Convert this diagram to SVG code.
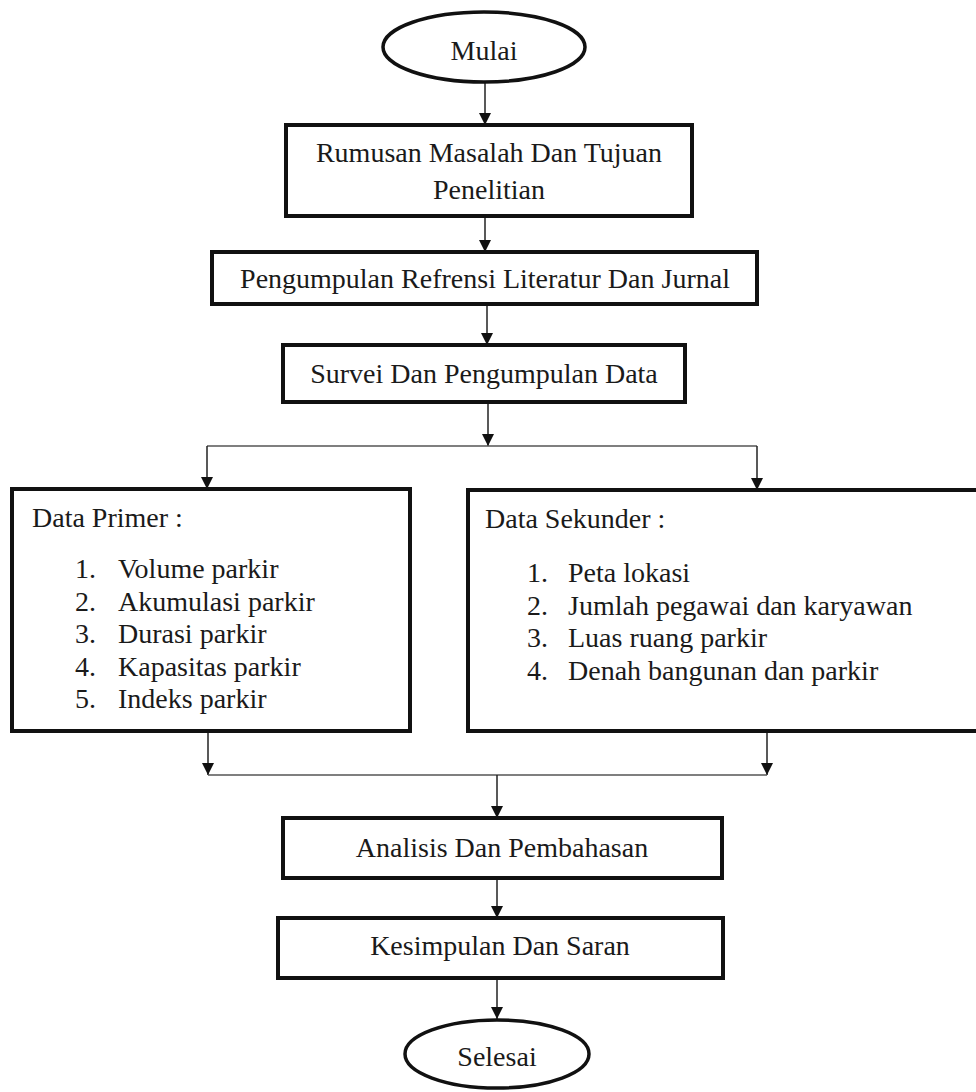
<svg xmlns="http://www.w3.org/2000/svg" width="976" height="1092" viewBox="0 0 976 1092">
<style>
  .box{fill:#fff;stroke:#111;stroke-width:4}
  .term{fill:#fff;stroke:#111;stroke-width:3.5}
  .t{font-family:'Liberation Serif','DejaVu Serif',serif;font-size:28px;fill:#1a1a1a}
  .c{text-anchor:middle}
  .v{fill:none;stroke:#222;stroke-width:1.5}
  .h{fill:none;stroke:#555;stroke-width:1.3}
</style>
<defs>
  <marker id="ah" markerUnits="userSpaceOnUse" markerWidth="12" markerHeight="12" refX="12" refY="6" orient="auto">
    <path d="M0,0 L12,6 L0,12 z" fill="#111"/>
  </marker>
</defs>
<rect width="976" height="1092" fill="#fff"/>
<g id="connectors">
  <line class="v" x1="485" y1="82" x2="485" y2="125" marker-end="url(#ah)"/>
  <line class="v" x1="485" y1="216" x2="485" y2="252" marker-end="url(#ah)"/>
  <line class="v" x1="487" y1="304" x2="487" y2="345" marker-end="url(#ah)"/>
  <line class="v" x1="488" y1="402" x2="488" y2="446" marker-end="url(#ah)"/>
  <line class="h" x1="207" y1="446" x2="757" y2="446"/>
  <line class="v" x1="207" y1="446" x2="207" y2="489" marker-end="url(#ah)"/>
  <line class="v" x1="757" y1="446" x2="757" y2="490" marker-end="url(#ah)"/>
  <line class="v" x1="208" y1="731" x2="208" y2="775" marker-end="url(#ah)"/>
  <line class="v" x1="767" y1="731" x2="767" y2="775" marker-end="url(#ah)"/>
  <line class="h" x1="208" y1="775" x2="767" y2="775"/>
  <line class="v" x1="497" y1="775" x2="497" y2="818" marker-end="url(#ah)"/>
  <line class="v" x1="497" y1="878" x2="497" y2="918" marker-end="url(#ah)"/>
  <line class="v" x1="497" y1="978" x2="497" y2="1019" marker-end="url(#ah)"/>
</g>
<g id="mulai">
  <ellipse class="term" cx="484" cy="47" rx="101" ry="35"/>
  <text class="t c" x="484" y="60" font-family="Liberation Serif">Mulai</text>
</g>
<g id="rumusan">
  <rect class="box" x="286" y="125" width="406" height="91"/>
  <text class="t c" x="489" y="162">Rumusan Masalah Dan Tujuan</text>
  <text class="t c" x="489" y="199">Penelitian</text>
</g>
<g id="pengumpulan">
  <rect class="box" x="212" y="252" width="545" height="52"/>
  <text class="t c" x="485" y="288">Pengumpulan Refrensi Literatur Dan Jurnal</text>
</g>
<g id="survei">
  <rect class="box" x="283" y="345" width="402" height="57"/>
  <text class="t c" x="484" y="383">Survei Dan Pengumpulan Data</text>
</g>
<g id="primer">
  <rect class="box" x="12" y="489" width="398" height="242"/>
  <text class="t" x="32" y="527">Data Primer :</text>
  <text class="t" x="75" y="578">1.</text><text class="t" x="118" y="578">Volume parkir</text>
  <text class="t" x="75" y="611">2.</text><text class="t" x="118" y="611">Akumulasi parkir</text>
  <text class="t" x="75" y="643">3.</text><text class="t" x="118" y="643">Durasi parkir</text>
  <text class="t" x="75" y="676">4.</text><text class="t" x="118" y="676">Kapasitas parkir</text>
  <text class="t" x="75" y="708">5.</text><text class="t" x="118" y="708">Indeks parkir</text>
</g>
<g id="sekunder">
  <rect class="box" x="468" y="490" width="512" height="241"/>
  <text class="t" x="485" y="528">Data Sekunder :</text>
  <text class="t" x="527" y="582">1.</text><text class="t" x="568" y="582">Peta lokasi</text>
  <text class="t" x="527" y="615">2.</text><text class="t" x="568" y="615">Jumlah pegawai dan karyawan</text>
  <text class="t" x="527" y="647">3.</text><text class="t" x="568" y="647">Luas ruang parkir</text>
  <text class="t" x="527" y="680">4.</text><text class="t" x="568" y="680">Denah bangunan dan parkir</text>
</g>
<g id="analisis">
  <rect class="box" x="283" y="818" width="439" height="60"/>
  <text class="t c" x="502" y="857">Analisis Dan Pembahasan</text>
</g>
<g id="kesimpulan">
  <rect class="box" x="278" y="918" width="445" height="60"/>
  <text class="t c" x="500" y="955">Kesimpulan Dan Saran</text>
</g>
<g id="selesai">
  <ellipse class="term" cx="497" cy="1054" rx="92" ry="34"/>
  <text class="t c" x="497" y="1066">Selesai</text>
</g>
</svg>
